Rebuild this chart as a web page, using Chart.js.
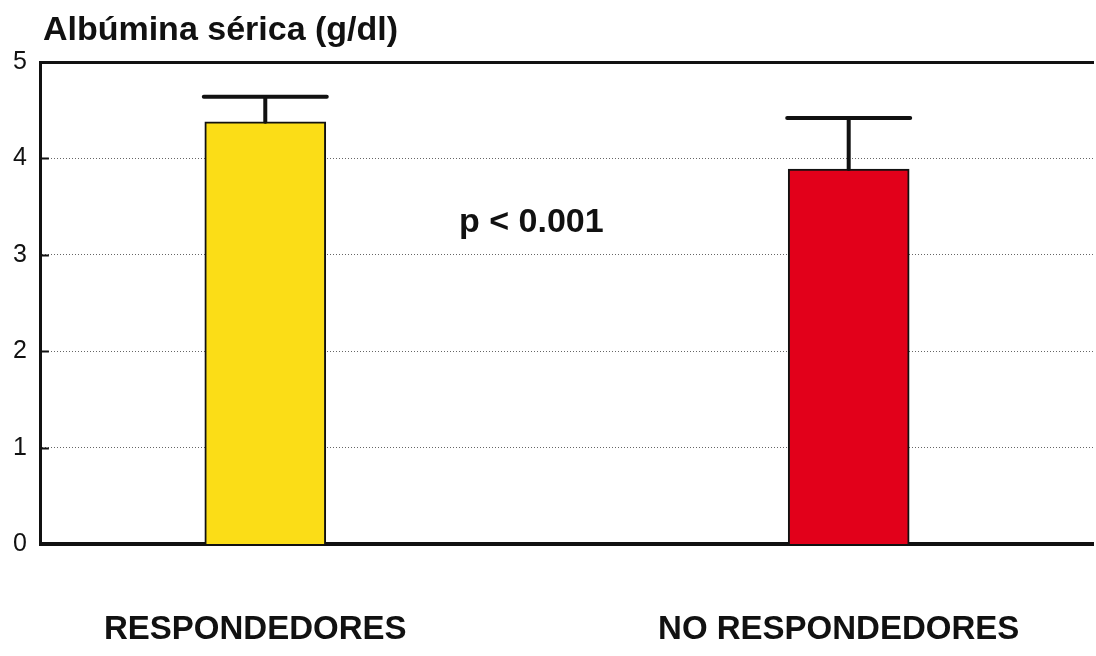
<!DOCTYPE html>
<html>
<head>
<meta charset="utf-8">
<script src="https://cdn.jsdelivr.net/npm/chart.js@4.4.1/dist/chart.umd.min.js"></script>
<style>
  html, body { margin: 0; padding: 0; background: #fff; }
  #wrap { width: 1096px; height: 656px; }
</style>
</head>
<body>
<div id="wrap"><canvas id="myChart"></canvas></div>
<script>
// data
const categories = ['RESPONDEDORES', 'NO RESPONDEDORES'];
const albumin = [4.38, 3.89];
const albuminErr = [0.26, 0.53];
const barColors = ['#FBDD17', '#E2001A'];
const yTicks = [0, 1, 2, 3, 4, 5];
const titleText = 'Albúmina sérica (g/dl)';
const pValueText = 'p < 0.001';
const pValueAt = { x: 0.456, y: 3.34 };

const FONT = "'Liberation Sans', Arial, Helvetica, sans-serif";

// error bars (only the upper arm, like the figure)
const errorBars = {
    id: 'errorBars',
    afterDatasetsDraw(chart) {
        const ctx = chart.ctx;
        const y = chart.scales.y;
        chart.getDatasetMeta(0).data.forEach((bar, i) => {
            const top = y.getPixelForValue(albumin[i] + albuminErr[i]);
            const half = bar.width / 2 + 1;
            ctx.save();
            ctx.strokeStyle = '#111';
            ctx.lineWidth = 4;
            ctx.lineCap = 'round';
            ctx.beginPath();
            ctx.moveTo(bar.x, bar.y);
            ctx.lineTo(bar.x, top);
            ctx.moveTo(bar.x - half, top);
            ctx.lineTo(bar.x + half, top);
            ctx.stroke();
            ctx.restore();
        });
    }
};

// title over the axis, the p value in the middle, short inner ticks on y
const texts = {
    id: 'texts',
    afterDraw(chart) {
        const ctx = chart.ctx;
        const area = chart.chartArea;
        const y = chart.scales.y;
        ctx.save();
        ctx.strokeStyle = '#111';
        ctx.lineWidth = 2;
        ctx.beginPath();
        yTicks.slice(1, -1).forEach(v => {
            const py = Math.round(y.getPixelForValue(v)) + 0.5;
            ctx.moveTo(area.left, py);
            ctx.lineTo(area.left + 8, py);
        });
        ctx.stroke();
        ctx.fillStyle = '#111';
        ctx.font = 'bold 34px ' + FONT;
        ctx.textAlign = 'left';
        ctx.textBaseline = 'alphabetic';
        ctx.fillText(titleText, area.left + 2, area.top - 22);
        ctx.textAlign = 'center';
        ctx.textBaseline = 'middle';
        ctx.fillText(pValueText,
            chart.scales.x.getPixelForValue(pValueAt.x),
            y.getPixelForValue(pValueAt.y));
        ctx.restore();
    }
};

const ctx = document.getElementById('myChart');
const myChart = new Chart(ctx, {
    type: 'bar',
    data: {
        datasets: [{
            data: albumin.map((v, i) => ({ x: i, y: v })),
            backgroundColor: barColors,
            borderColor: '#111',
            borderWidth: 2,
            barThickness: 121
        }]
    },
    options: {
        responsive: true,
        maintainAspectRatio: false,
        animation: false,
        layout: { padding: { left: -1, top: 62, right: 0, bottom: -60 } },
        plugins: {
            legend: { display: false },
            tooltip: { enabled: false }
        },
        scales: {
            x: {
                type: 'linear',
                offset: false,
                min: -0.3846,
                max: 1.4188,
                afterBuildTicks: scale => {
                    scale.ticks = categories.map((c, i) => ({ value: i }));
                },
                grid: { display: false, drawTicks: false, offset: false },
                border: { display: true, color: '#111', width: 4 },
                ticks: {
                    padding: 66,
                    labelOffset: -10,
                    maxRotation: 0,
                    autoSkip: false,
                    color: '#111',
                    font: { family: FONT, size: 33, weight: 'bold' },
                    callback: v => categories[v]
                }
            },
            xTop: {
                type: 'linear',
                position: 'top',
                min: 0,
                max: 1,
                grid: { display: false, drawTicks: false },
                border: { display: true, color: '#111', width: 3 },
                ticks: { display: false }
            },
            y: {
                min: 0,
                max: 5,
                afterBuildTicks: scale => {
                    scale.ticks = yTicks.map(v => ({ value: v }));
                },
                grid: {
                    drawTicks: false,
                    lineWidth: 1,
                    color: c => (c.tick.value === 0 || c.tick.value === 5) ? 'rgba(0,0,0,0)' : '#666'
                },
                border: { display: true, color: '#111', width: 3, dash: [1, 2] },
                ticks: {
                    padding: 14,
                    color: '#111',
                    font: { family: FONT, size: 25 }
                }
            }
        }
    },
    plugins: [errorBars, texts]
});
</script>
</body>
</html>
